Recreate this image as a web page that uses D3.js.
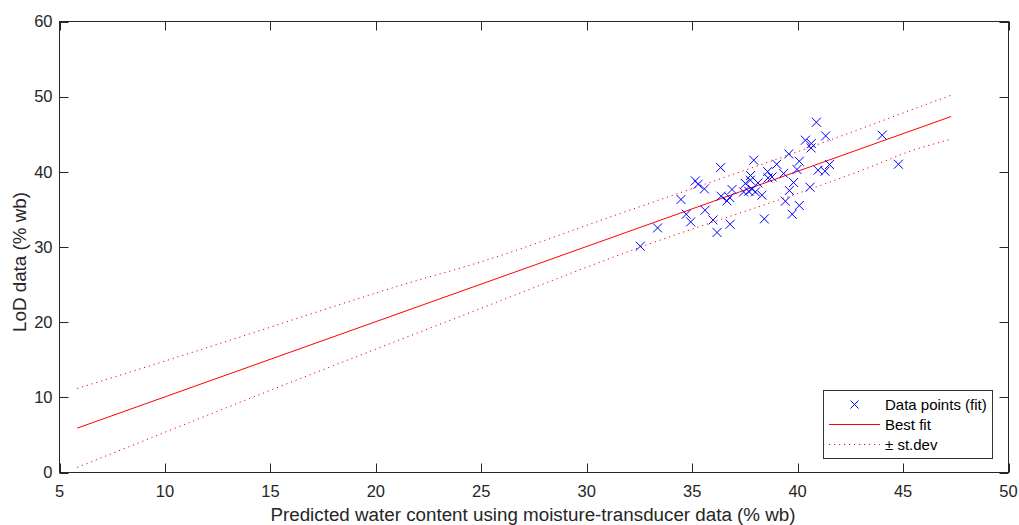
<!DOCTYPE html>
<html>
<head>
<meta charset="utf-8">
<title>LoD vs predicted water content</title>
<style>
body { margin: 0; background: #fff; }
svg text { font-family: "Liberation Sans", Arial, sans-serif; fill: #262626; }
.tick-label { font-size: 16.5px; }
.axis-label { font-size: 18.8px; }
.legend-label { font-size: 15px; fill: #000; }
</style>
</head>
<body>
<svg width="1019" height="525"></svg>
<script src="https://cdn.jsdelivr.net/npm/d3@7"></script>
<script>
// measured points, [predicted %wb, LoD %wb]
var dataPoints = [
  [40.89, 46.60], [40.37, 44.21], [41.33, 44.78], [40.65, 43.77], [40.64, 43.18],
  [39.58, 42.38], [40.08, 41.41], [41.51, 40.97], [40.97, 40.22], [41.30, 40.08],
  [39.97, 40.31], [37.92, 41.55], [39.01, 41.01], [36.35, 40.57], [38.58, 40.04],
  [39.34, 39.78], [38.79, 39.32], [38.60, 39.19], [37.77, 39.51], [35.15, 38.79],
  [35.28, 38.35], [35.58, 37.73], [39.81, 38.58], [39.61, 37.52], [40.59, 37.95],
  [37.76, 38.89], [38.12, 38.53], [37.52, 38.45], [37.84, 37.69], [37.68, 37.42],
  [37.44, 37.33], [38.00, 37.33], [36.89, 37.65], [38.31, 36.89], [36.37, 36.76],
  [36.78, 36.58], [36.65, 36.13], [34.47, 36.32], [39.42, 36.09], [40.08, 35.52],
  [39.74, 34.36], [38.42, 33.74], [35.61, 34.89], [34.72, 34.36], [34.93, 33.34],
  [35.99, 33.60], [36.80, 33.03], [36.18, 31.93], [33.36, 32.54], [32.54, 30.10],
  [44.01, 44.87], [44.78, 41.01]
];

// best fit line ends
var bestFit = [[5.84, 5.90], [47.28, 47.36]];

// ± st.dev curves, read along x
var upperDev = [[5.84, 11.17], [10.72, 15.47], [13.09, 17.60], [22.10, 25.67], [24.47, 27.58],
                [31.59, 34.46], [43.45, 46.20], [45.35, 48.20], [47.28, 50.19]];
var lowerDev = [[5.84, 0.67], [10.72, 6.16], [13.09, 8.82], [22.10, 18.70], [24.47, 21.28],
                [31.59, 29.00], [43.45, 40.65], [45.35, 42.75], [47.28, 44.34]];

var xTicks = [5, 10, 15, 20, 25, 30, 35, 40, 45, 50];
var yTicks = [0, 10, 20, 30, 40, 50, 60];
var legendLabels = ["Data points (fit)", "Best fit", "\u00b1 st.dev"];

var svg = d3.select("svg");
var plotL = 59.5, plotR = 1008.5, plotT = 21.5, plotB = 472.5;

var x = d3.scaleLinear().domain([5, 50]).range([plotL, plotR]);
var y = d3.scaleLinear().domain([0, 60]).range([plotB, plotT]);

var axisColor = "#262626";
var tickLen = 9;

// ticks on all four sides (box on)
var g = svg.append("g");
xTicks.forEach(function(t) {
  var px = Math.round(x(t)) + 0.5;
  g.append("line").attr("x1", px).attr("x2", px).attr("y1", plotB).attr("y2", plotB - tickLen)
    .attr("stroke", axisColor);
  g.append("line").attr("x1", px).attr("x2", px).attr("y1", plotT).attr("y2", plotT + tickLen)
    .attr("stroke", axisColor);
  g.append("text").attr("class", "tick-label")
    .attr("x", x(t)).attr("y", plotB + 24)
    .attr("text-anchor", "middle")
    .text(t);
});
yTicks.forEach(function(t) {
  var py = Math.round(y(t)) + 0.5;
  g.append("line").attr("x1", plotL).attr("x2", plotL + tickLen).attr("y1", py).attr("y2", py)
    .attr("stroke", axisColor);
  g.append("line").attr("x1", plotR).attr("x2", plotR - tickLen).attr("y1", py).attr("y2", py)
    .attr("stroke", axisColor);
  g.append("text").attr("class", "tick-label")
    .attr("x", plotL - 7).attr("y", y(t))
    .attr("dy", "0.35em")
    .attr("text-anchor", "end")
    .text(t);
});

var line = d3.line().x(function(d) { return x(d[0]); }).y(function(d) { return y(d[1]); });
var curve = d3.line().curve(d3.curveMonotoneX)
  .x(function(d) { return x(d[0]); }).y(function(d) { return y(d[1]); });

// std dev curves
[upperDev, lowerDev].forEach(function(dev) {
  svg.append("path").attr("d", curve(dev))
    .attr("fill", "none").attr("stroke", "#ff0000")
    .attr("stroke-width", 1).attr("stroke-dasharray", "1.2,3.8");
});

// best fit
svg.append("path").attr("d", line(bestFit))
  .attr("fill", "none").attr("stroke", "#ff0000").attr("stroke-width", 1);

// data points as crosses
var s = 4.5;
var pts = svg.append("g").attr("stroke", "#0000ff").attr("stroke-width", 1);
pts.selectAll("path").data(dataPoints).enter().append("path")
  .attr("d", function(d) {
    var cx = x(d[0]), cy = y(d[1]);
    return "M" + (cx - s) + "," + (cy - s) + "L" + (cx + s) + "," + (cy + s) +
           "M" + (cx - s) + "," + (cy + s) + "L" + (cx + s) + "," + (cy - s);
  });

// axes box
svg.append("rect").attr("x", plotL).attr("y", plotT)
  .attr("width", plotR - plotL).attr("height", plotB - plotT)
  .attr("fill", "none").attr("stroke", axisColor).attr("stroke-width", 1);

// axis labels
svg.append("text").attr("class", "axis-label")
  .attr("x", (plotL + plotR) / 2 - 1).attr("y", 521)
  .attr("text-anchor", "middle")
  .text("Predicted water content using moisture-transducer data (% wb)");
svg.append("text").attr("class", "axis-label")
  .attr("transform", "translate(19," + ((plotT + plotB) / 2 + 15) + ") rotate(-90)")
  .attr("text-anchor", "middle")
  .attr("dy", "0.35em")
  .text("LoD data (% wb)");

// legend
var lg = svg.append("g");
lg.append("rect").attr("x", 823.5).attr("y", 390.5).attr("width", 169).attr("height", 68)
  .attr("fill", "#fff").attr("stroke", "#333").attr("stroke-width", 1);
var rows = [404.5, 424.5, 444.5];
lg.append("path")
  .attr("d", "M" + (854.5 - 4) + "," + (rows[0] - 4) + "L" + (854.5 + 4) + "," + (rows[0] + 4) +
             "M" + (854.5 - 4) + "," + (rows[0] + 4) + "L" + (854.5 + 4) + "," + (rows[0] - 4))
  .attr("stroke", "#0000ff").attr("stroke-width", 1);
lg.append("line").attr("x1", 829).attr("x2", 880).attr("y1", rows[1]).attr("y2", rows[1])
  .attr("stroke", "#ff0000");
lg.append("line").attr("x1", 829).attr("x2", 880).attr("y1", rows[2]).attr("y2", rows[2])
  .attr("stroke", "#ff0000").attr("stroke-dasharray", "1.2,3.8");
legendLabels.forEach(function(t, i) {
  lg.append("text").attr("class", "legend-label")
    .attr("x", 885).attr("y", rows[i]).attr("dy", "0.35em").text(t);
});
</script>
</body>
</html>
